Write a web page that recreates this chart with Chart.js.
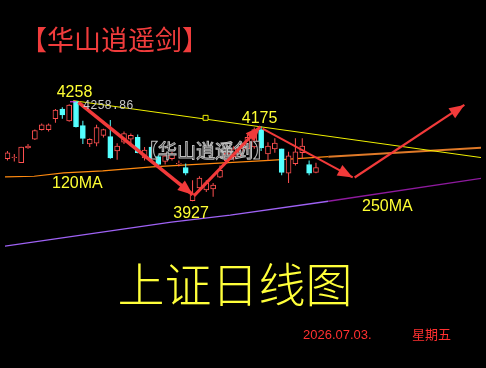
<!DOCTYPE html>
<html><head><meta charset="utf-8">
<script src="https://cdn.jsdelivr.net/npm/chart.js@4.4.1/dist/chart.umd.min.js"></script>
<style>html,body{margin:0;padding:0;background:#000;overflow:hidden}canvas{display:block}</style>
</head><body>
<canvas id="c" width="486" height="368"></canvas>
<script>
// ---- data (index = trading day, values = index points) ----
const candleOpen  = [4068,4072,4055,4104,4133,4165,4165,4201,4233,4194,4258,4178,4117,4120,4146,4142,4094,4123,4133,4139,4071,4107,4075,4059,4068,4051,4039,3929,3971,3965,3968,4007,4062,4075,4084,4101,4107,4165,4084,4101,4101,4020,4052,4088,4049,4023];
const candleHigh  = [4094,4084,4108,4117,4165,4185,4185,4233,4239,4249,4258.86,4194,4136,4181,4168,4197,4120,4159,4152,4149,4107,4113,4081,4088,4091,4062,4052,3997,4010,3997,3988,4046,4101,4110,4120,4149,4172,4175,4123,4136,4101,4091,4136,4136,4062,4055];
const candleLow   = [4062,4059,4054,4101,4130,4162,4159,4188,4201,4191,4172,4117,4107,4110,4139,4068,4065,4117,4120,4086,4062,4062,4042,4049,4062,4042,4013,3927,3962,3958,3942,4004,4052,4062,4072,4094,4101,4094,4062,4088,4013,3988,4046,4068,4013,4020];
const candleClose = [4088,4074,4107,4110,4162,4181,4181,4230,4214,4246,4175,4136,4133,4172,4165,4071,4110,4152,4146,4088,4097,4068,4049,4078,4084,4053,4020,3952,4004,3988,3981,4030,4088,4101,4107,4139,4165,4104,4110,4120,4023,4078,4091,4110,4020,4039];

const ma120X = [-0.36, 3.9, 8.2, 13.9, 21.1, 28.2, 38.2, 46.8, 69.1];
const ma120Y = [4008, 4010, 4021, 4028, 4041, 4050, 4063, 4075, 4105];
const ma250X = [-0.36, 23.9, 32.5, 46.8, 69.1];
const ma250Y = [3778, 3858, 3881, 3927, 4003];
const trendX = [9.6, 69.1];
const trendY = [4261, 4072];
const markerX = [28.9];
const markerY = [4204];
const arrow1X = [10.36, 27.03], arrow1Y = [4255.6, 3948.7];
const arrow2X = [27.2, 36.9],   arrow2Y = [3945, 4175];
const arrow3X = [37.2, 50.36],  arrow3Y = [4168, 4006];
const arrow4X = [50.64, 66.64], arrow4Y = [4006, 4247];

const peakLabels = ['4258', '4175', '3927'];
const peakIndex  = [10, 37, 27];
const peakSide   = ['above', 'above', 'below'];
const titleText = '【华山逍遥剑】';
const chartTitle = '上证日线图';
const dateText = '2026.07.03.';
const weekText = '星期五';
const maLabels = ['120MA', '250MA'];

// ---- build ----
const idx = candleOpen.map((_, i) => i);
const isUp = idx.map(i => candleClose[i] >= candleOpen[i]);
const RED = '#ff5050', CYAN = '#54ffff', ARROW = '#f23a3a';
const pts = (xs, ys) => xs.map((x, i) => ({x, y: ys[i]}));

const arrowDs = (xs, ys, w) => ({
  type: 'line', label: 'arrow', data: pts(xs, ys), borderColor: ARROW, borderWidth: w,
  pointRadius: 0, tension: 0, order: 1, arrow: true
});

const overlay = {
  id: 'overlay',
  beforeDraw(c) {
    const g = c.ctx; g.save(); g.fillStyle = '#000'; g.fillRect(0, 0, c.width, c.height); g.restore();
  },
  afterDatasetDraw(c, args) {
    if (c.data.datasets[args.index].label !== 'bodies') return;
    const g = c.ctx; g.save();
    g.font = '19px "Noto Sans CJK SC"';
    g.textBaseline = 'middle';
    g.fillStyle = '#000';
    g.fillText(titleText, 139, 151);
    g.strokeStyle = '#bdbdbd'; g.lineWidth = 1;
    g.strokeText(titleText, 139, 151);
    g.restore();
  },
  afterDatasetsDraw(c) {
    const g = c.ctx;
    c.data.datasets.forEach((ds, i) => {
      if (!ds.arrow) return;
      const m = c.getDatasetMeta(i).data;
      const a = m[m.length - 2], b = m[m.length - 1];
      const ang = Math.atan2(b.y - a.y, b.x - a.x);
      const L = 15, W = 6;
      g.save(); g.fillStyle = ARROW; g.beginPath();
      g.moveTo(b.x, b.y);
      g.lineTo(b.x - L * Math.cos(ang) + W * Math.sin(ang), b.y - L * Math.sin(ang) - W * Math.cos(ang));
      g.lineTo(b.x - L * Math.cos(ang) - W * Math.sin(ang), b.y - L * Math.sin(ang) + W * Math.cos(ang));
      g.closePath(); g.fill(); g.restore();
    });
  },
  afterDraw(c) {
    const g = c.ctx, xs = c.scales.x, ys = c.scales.y;
    g.save();
    g.font = '16px "Liberation Sans", Arial';
    g.fillStyle = '#ffff33'; g.textAlign = 'center';
    peakLabels.forEach((t, k) => {
      const i = peakIndex[k];
      const x = xs.getPixelForValue(i) - 1.5;
      if (peakSide[k] === 'above') { g.textBaseline = 'alphabetic'; g.fillText(t, x, ys.getPixelForValue(candleHigh[i]) - 4); }
      else { g.textBaseline = 'top'; g.fillText(t, x, ys.getPixelForValue(candleLow[i]) + 4); }
    });
    g.textAlign = 'left'; g.textBaseline = 'alphabetic';
    g.font = '12px "Liberation Mono", monospace';
    g.fillStyle = '#c8c8c8';
    g.fillText(candleHigh[10].toFixed(2), xs.getPixelForValue(10) + 7, ys.getPixelForValue(candleHigh[10]) + 8);
    g.strokeStyle = '#ff40ff'; g.lineWidth = 1;
    g.beginPath(); g.moveTo(70, ys.getPixelForValue(candleHigh[10]) + 0.5); g.lineTo(76, ys.getPixelForValue(candleHigh[10]) + 0.5); g.stroke();
    g.font = '16px "Liberation Sans", Arial'; g.fillStyle = '#ffff33';
    g.fillText(maLabels[0], 52, 188);
    g.fillText(maLabels[1], 362, 211);
    g.font = '27px "Noto Sans CJK SC"'; g.fillStyle = '#f03c3c'; g.textBaseline = 'middle';
    g.fillText(titleText, 20, 40);
    g.font = '300 47px "Noto Sans CJK SC"'; g.fillStyle = '#ffff3a'; g.textAlign = 'center';
    g.fillText(chartTitle, 235, 284);
    g.textAlign = 'left'; g.textBaseline = 'alphabetic';
    g.font = '13px "Liberation Sans", Arial'; g.fillStyle = '#ff3030';
    g.fillText(dateText, 303, 339);
    g.font = '13px "Noto Sans CJK SC"'; g.textBaseline = 'middle';
    g.fillText(weekText, 412, 334.5);
    g.restore();
  }
};

new Chart(document.getElementById('c'), {
  type: 'bar',
  data: {
    datasets: [
      { type: 'line', label: '250MA', data: pts(ma250X, ma250Y), borderWidth: 1.3, pointRadius: 0, tension: 0, order: 10,
        borderColor: '#a060f0', segment: { borderColor: s => s.p0.parsed.x >= 40 ? '#8e1a9e' : '#9f62f5' } },
      { type: 'line', label: '120MA', data: pts(ma120X, ma120Y), borderWidth: 1.2, pointRadius: 0, tension: 0, order: 9,
        borderColor: '#ff8a10', segment: { borderColor: s => s.p0.parsed.x >= 46 ? '#e07a28' : '#ff8a10', borderWidth: s => s.p0.parsed.x >= 46 ? 2 : 1.2 } },
      { type: 'line', label: 'trend', data: pts(trendX, trendY), borderColor: '#f0f000', borderWidth: 1, pointRadius: 0, order: 8 },
      { type: 'line', label: 'marker', data: pts(markerX, markerY), showLine: false, pointStyle: 'rect', pointRadius: 3.5,
        pointBorderColor: '#f0f000', pointBackgroundColor: '#000', pointBorderWidth: 1, order: 7 },
      { label: 'wicks', data: idx.map(i => ({x: i, y: [candleLow[i], candleHigh[i]]})), maxBarThickness: 1, grouped: false,
        backgroundColor: idx.map(i => isUp[i] ? RED : CYAN), borderWidth: 0, order: 6 },
      { label: 'bodies', data: idx.map(i => ({x: i, y: [candleOpen[i], candleClose[i]]})), maxBarThickness: 5,
        barPercentage: 1, categoryPercentage: 1, grouped: false,
        backgroundColor: idx.map(i => isUp[i] ? '#000' : CYAN), borderColor: idx.map(i => isUp[i] ? RED : CYAN),
        borderWidth: 1, borderSkipped: false, order: 5 },
      arrowDs(arrow1X, arrow1Y, 3.5),
      arrowDs(arrow2X, arrow2Y, 3),
      arrowDs(arrow3X, arrow3Y, 2),
      arrowDs(arrow4X, arrow4Y, 2.2)
    ]
  },
  options: {
    responsive: false, animation: false, devicePixelRatio: 1,
    layout: { padding: 0 },
    plugins: { legend: { display: false }, tooltip: { enabled: false }, title: { display: false } },
    scales: {
      x: { type: 'linear', min: -0.357, max: 69.07, display: false, offset: false },
      y: { min: 3390, max: 4578.6, display: false }
    }
  },
  plugins: [overlay]
});
</script>
</body></html>
